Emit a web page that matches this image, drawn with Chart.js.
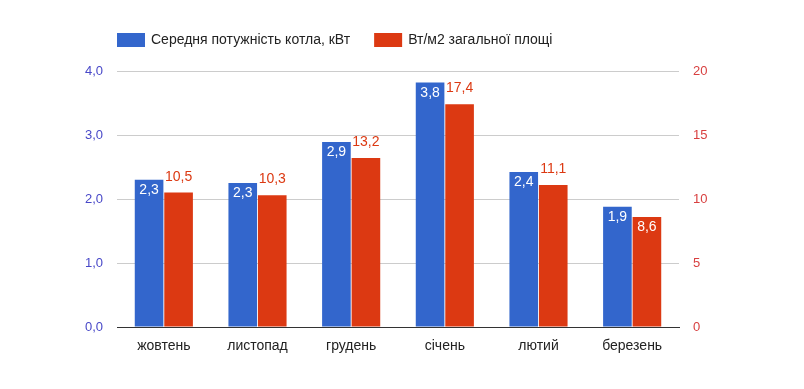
<!DOCTYPE html>
<html>
<head>
<meta charset="utf-8">
<script src="https://cdn.jsdelivr.net/npm/chart.js@4"></script>
<style>
  html, body { margin: 0; background: #fff; }
</style>
</head>
<body>
<canvas id="chart" width="804" height="389"></canvas>
<script>
const months = ['жовтень', 'листопад', 'грудень', 'січень', 'лютий', 'березень'];
const powerKw = [2.3, 2.25, 2.89, 3.82, 2.42, 1.88];
const wattsPerM2 = [10.5, 10.3, 13.2, 17.4, 11.1, 8.6];
const seriesNames = ['Середня потужність котла, кВт', 'Вт/м2 загальної площі'];
const seriesColors = ['#3366cc', '#dc3912'];

const FONT = 'Arial, "Liberation Sans", sans-serif';

// легенда зверху, як у Google Charts
const topLegend = {
  id: 'topLegend',
  afterDraw(chart) {
    const ctx = chart.ctx;
    ctx.save();
    ctx.font = '14px ' + FONT;
    ctx.textBaseline = 'middle';
    let x = 117;
    chart.data.datasets.forEach(ds => {
      ctx.fillStyle = ds.backgroundColor;
      ctx.fillRect(x, 33, 28, 14);
      ctx.fillStyle = '#222';
      ctx.fillText(ds.label, x + 34, 40);
      x += 34 + ctx.measureText(ds.label).width + 24;
    });
    ctx.restore();
  }
};

// підписи значень над / всередині стовпців
const barLabels = {
  id: 'barLabels',
  afterDatasetsDraw(chart) {
    const ctx = chart.ctx;
    const first = chart.getDatasetMeta(0).data;
    ctx.save();
    ctx.font = '14px ' + FONT;
    ctx.textAlign = 'center';
    ctx.textBaseline = 'alphabetic';
    chart.data.datasets.forEach((ds, di) => {
      chart.getDatasetMeta(di).data.forEach((bar, i) => {
        const text = ds.data[i].toFixed(1).replace('.', ',');
        const inside = di === 0 || bar.y - first[i].y < 11;
        ctx.fillStyle = inside ? '#fff' : ds.backgroundColor;
        ctx.fillText(text, bar.x, inside ? bar.y + 14 : bar.y - 12);
      });
    });
    ctx.restore();
  }
};

new Chart(document.getElementById('chart'), {
  type: 'bar',
  data: {
    labels: months,
    datasets: [
      { label: seriesNames[0], data: powerKw, backgroundColor: seriesColors[0], yAxisID: 'y' },
      { label: seriesNames[1], data: wattsPerM2, backgroundColor: seriesColors[1], yAxisID: 'y1' }
    ]
  },
  options: {
    responsive: false,
    animation: false,
    categoryPercentage: 0.63,
    barPercentage: 0.97,
    layout: { padding: { top: 71, left: 0, right: 0, bottom: 0 } },
    plugins: {
      legend: { display: false },
      tooltip: { enabled: false }
    },
    scales: {
      x: {
        grid: { display: false, drawTicks: false },
        border: { display: true, color: '#333' },
        ticks: { color: '#222', font: { size: 14, family: FONT }, padding: 11 },
        afterFit(scale) { scale.height = 62; }
      },
      y: {
        position: 'left',
        min: 0,
        max: 4,
        ticks: {
          stepSize: 1,
          padding: 14,
          color: '#4848c8',
          font: { size: 13, family: FONT },
          callback: v => v.toFixed(1).replace('.', ',')
        },
        grid: {
          drawTicks: false,
          color: ctx => ctx.tick && ctx.tick.value === 0 ? '#333' : '#ccc'
        },
        border: { display: false },
        afterFit(scale) { scale.width = 117; }
      },
      y1: {
        position: 'right',
        min: 0,
        max: 20,
        ticks: {
          stepSize: 5,
          padding: 14,
          color: '#d84040',
          font: { size: 13, family: FONT }
        },
        grid: { drawOnChartArea: false, drawTicks: false },
        border: { display: false },
        afterFit(scale) { scale.width = 125; }
      }
    }
  },
  plugins: [topLegend, barLabels]
});
</script>
</body>
</html>
